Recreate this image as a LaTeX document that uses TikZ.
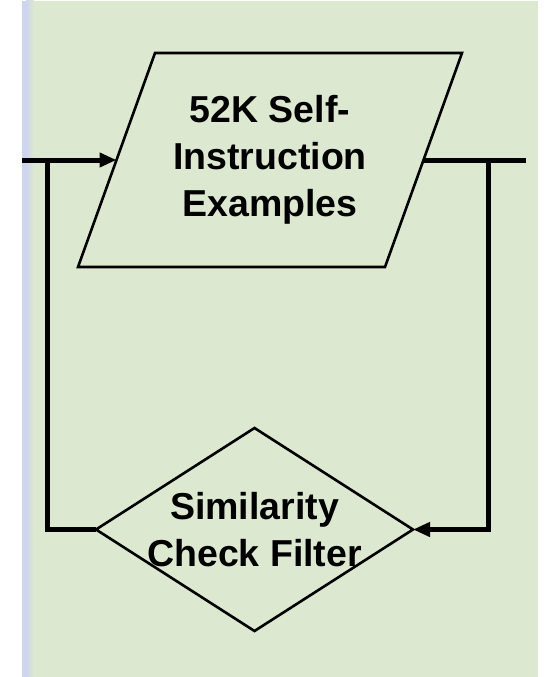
\documentclass[tikz,border=0pt]{standalone}
\usepackage{fontspec}
\setmainfont{Liberation Sans}
\usetikzlibrary{arrows.meta}
\definecolor{panel}{RGB}{221,232,208}
\definecolor{edgeblue}{RGB}{206,213,240}
\tikzset{
  outline/.style={draw=black, line width=2.6pt, line join=miter},
  flow/.style={draw=black, line width=5pt, line join=miter},
  flowarrow/.style={flow, -{Triangle[length=17pt,width=14pt]}},
  label/.style={font=\fontsize{37.5}{47}\selectfont\bfseries, align=center, inner sep=0pt},
}
\begin{document}
\begin{tikzpicture}[x=1pt,y=-1pt]
  % page and panel
  \useasboundingbox (0,0) rectangle (549,677);
  \fill[white] (0,0) rectangle (549,677);
  \fill[panel] (22,1) rectangle (538,677);
  \fill[edgeblue] (22,1) rectangle (26,677);
  \shade[left color=edgeblue, right color=panel] (26,1) rectangle (34,677);

  % input/output block
  \draw[outline] (155,53) -- (462,53) -- (385,267) -- (78,267) -- cycle;
  \node[label] (examples) at (270,160) {52K Self-\\Instruction\\Examples};
  \coordinate (exIn)  at (116.5,160);
  \coordinate (exOut) at (423.5,160);

  % decision block
  \draw[outline] (254.5,428) -- (413,529.5) -- (254.5,631) -- (96,529.5) -- cycle;
  \node[label] (filter) at (254.5,529.5) {Similarity\\Check Filter};
  \coordinate (fiRight) at (413,529.5);
  \coordinate (fiLeft)  at (96,529.5);

  % connector ends and bends
  \coordinate (inStart) at (22,160);
  \coordinate (outEnd)  at (526,160);
  \coordinate (rBend)   at (488,160);
  \coordinate (rLow)    at (488,529.5);
  \coordinate (lBend)   at (47,529.5);
  \coordinate (lTop)    at (47,160);

  % connectors
  \draw[flowarrow] (inStart) -- (exIn);
  \draw[flow] (exOut) -- (outEnd);
  \draw[flowarrow] (rBend) -- (rLow) -- (fiRight);
  \draw[flow] (fiLeft) -- (lBend) -- (lTop);
\end{tikzpicture}
\end{document}
